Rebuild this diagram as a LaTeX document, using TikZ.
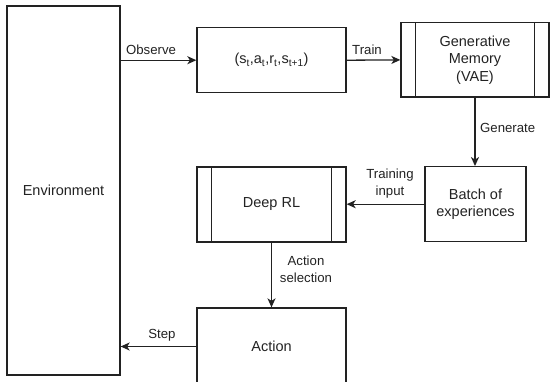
\documentclass[tikz,border=0pt]{standalone}
\usepackage{fontspec}
\setmainfont{Liberation Sans}
\usetikzlibrary{arrows.meta}
\definecolor{ln}{RGB}{34,34,34}
\begin{document}
\begin{tikzpicture}[x=1pt,y=-1pt,
  box/.style={draw=ln, line width=1.3pt, inner sep=0pt, align=center,
    font=\fontsize{14.5}{17.5}\selectfont, text=ln},
  lbl/.style={font=\fontsize{13.2}{17}\selectfont, align=center, text=ln, inner sep=0pt},
  arr/.style={draw=ln, line width=1.3pt, -{Stealth[length=9pt,width=8pt,inset=2.5pt]}},
  bar/.style={draw=ln, line width=1.3pt}]
\useasboundingbox (0,0) rectangle (550,381);
\node[box, minimum width=113pt, minimum height=369pt] (env) at (63.5,190.5) {Environment};
\node[box, minimum width=149pt, minimum height=65pt] (tuple) at (271.5,60.2)
  {(s\textsubscript{t},a\textsubscript{t},r\textsubscript{t},s\textsubscript{t+1})};
\node[box, minimum width=148pt, minimum height=74.3pt] (gen) at (475,59.9)
  {Generative\\Memory\\(VAE)};
\node[box, minimum width=101pt, minimum height=75pt] (batch) at (475.5,204.2)
  {Batch of\\experiences};
\node[box, minimum width=149pt, minimum height=75pt] (deep) at (271.5,204.5) {Deep RL};
\node[box, minimum width=149pt, minimum height=77pt] (action) at (271.5,346.5) {Action};
\draw[bar] ([xshift=15pt]gen.north west) -- ([xshift=15pt]gen.south west);
\draw[bar] ([xshift=-15pt]gen.north east) -- ([xshift=-15pt]gen.south east);
\draw[bar] ([xshift=15pt]deep.north west) -- ([xshift=15pt]deep.south west);
\draw[bar] ([xshift=-15pt]deep.north east) -- ([xshift=-15pt]deep.south east);
\draw[arr] (env.east |- tuple.west) -- (tuple.west);
\draw[arr] (tuple.east) -- (gen.west);
\draw[arr] (gen.south) -- (gen.south |- batch.north);
\draw[arr] (batch.west) -- (deep.east |- batch.west);
\draw[arr] (deep.south) -- (action.north);
\draw[arr] (action.west) -- (env.east |- action.west);
\node[lbl] (lobs) at (151,50) {Observe};
\node[lbl] (ltrain) at (367,50) {Train};
\node[lbl, anchor=west] (lgen) at (480,128) {Generate};
\node[lbl] (ltin) at (390,183.5) {Training\\input};
\node[lbl] (lsel) at (306,269) {Action\\selection};
\node[lbl] (lstep) at (162,335) {Step};
\end{tikzpicture}
\end{document}
